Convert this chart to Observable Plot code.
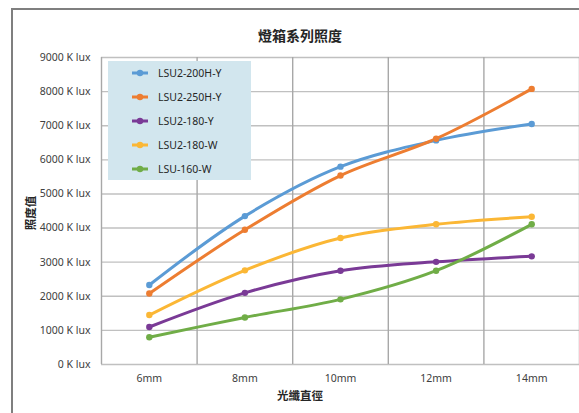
<!DOCTYPE html>
<html>
<head>
<meta charset="utf-8">
<script src="https://cdn.jsdelivr.net/npm/d3@7"></script>
<script src="https://cdn.jsdelivr.net/npm/@observablehq/plot@0.6"></script>
<style>
  html, body { margin: 0; padding: 0; background: #fff; overflow: hidden; }
  #wrap { position: relative; width: 579px; height: 413px; font-family: "Noto Sans", "Noto Sans CJK TC", sans-serif; }
  #frame { position: absolute; left: 11px; top: 8px; width: 700px; height: 600px; border: 2.5px solid #7f7f7f; box-sizing: border-box; }
  #chart { position: absolute; left: 0; top: 0; }
  .lbl { position: absolute; font-family: "Noto Sans CJK TC", sans-serif; color: #262626; white-space: nowrap; }
  #title { left: 0; width: 600px; top: 25px; text-align: center; font-size: 14px; font-weight: bold; }
  #xlabel { left: 0; width: 600px; top: 387px; text-align: center; font-size: 11.5px; font-weight: bold; }
  #ylabel { left: 30px; top: 213px; transform: translate(-50%, -50%) rotate(-90deg); font-size: 11.5px; font-weight: bold; }
  #legend { position: absolute; left: 108px; top: 61px; width: 143px; height: 119px; background: #d2e6ee; }
  .item { position: absolute; left: 24px; height: 14px; display: flex; align-items: center; font-family: "Noto Sans", sans-serif; font-size: 10.5px; color: #262626; }
  .item svg { margin-right: 10px; }
</style>
</head>
<body>
<div id="wrap">
  <div id="frame"></div>
  <div id="chart"></div>
  <div id="title" class="lbl">燈箱系列照度</div>
  <div id="xlabel" class="lbl">光纖直徑</div>
  <div id="ylabel" class="lbl">照度值</div>
  <div id="legend"></div>
</div>
<script>
const categories = ["6mm", "8mm", "10mm", "12mm", "14mm"];
const seriesNames = ["LSU2-200H-Y", "LSU2-250H-Y", "LSU2-180-Y", "LSU2-180-W", "LSU-160-W"];
const seriesColors = ["#5b9bd5", "#ed7d31", "#7a3a96", "#fbb735", "#70ad47"];
const lsu2_200H_Y = [2330, 4350, 5800, 6570, 7050];
const lsu2_250H_Y = [2080, 3950, 5540, 6620, 8080];
const lsu2_180_Y  = [1100, 2100, 2750, 3010, 3170];
const lsu2_180_W  = [1450, 2760, 3710, 4110, 4330];
const lsu_160_W   = [800, 1380, 1910, 2750, 4110];
const yTicks = [0, 1000, 2000, 3000, 4000, 5000, 6000, 7000, 8000, 9000];

const seriesValues = [lsu2_200H_Y, lsu2_250H_Y, lsu2_180_Y, lsu2_180_W, lsu_160_W];
const data = [];
seriesNames.forEach((s, si) => {
  seriesValues[si].forEach((v, ci) => data.push({series: s, pos: ci + 0.5, value: v}));
});
const boundaries = d3.range(categories.length + 1);
const centers = categories.map((c, i) => i + 0.5);

const chart = Plot.plot({
  width: 579,
  height: 413,
  marginLeft: 101,
  marginRight: 0,
  marginTop: 57,
  marginBottom: 49,
  style: {background: "transparent", fontFamily: "Noto Sans, sans-serif", fontSize: "10.5px", color: "#404040"},
  x: {type: "linear", domain: [0, categories.length]},
  y: {domain: [0, 9000]},
  color: {domain: seriesNames, range: seriesColors},
  marks: [
    Plot.ruleY(yTicks, {stroke: "#c0c0c0", strokeWidth: 1.4}),
    Plot.ruleX(boundaries, {stroke: "#a8a8a8", strokeWidth: 1.4}),
    Plot.axisY({ticks: yTicks, tickFormat: d => `${d} K lux`, tickSize: 0, tickPadding: 11, label: null, fill: "#404040"}),
    Plot.axisX({ticks: centers, tickFormat: d => categories[Math.round(d - 0.5)], tickSize: 0, tickPadding: 10, label: null, fill: "#404040"}),
    Plot.line(data, {x: "pos", y: "value", z: "series", stroke: "series", strokeWidth: 3, curve: "catmull-rom"}),
    Plot.dot(data, {x: "pos", y: "value", fill: "series", r: 3.2})
  ]
});
document.getElementById("chart").appendChild(chart);

const legend = document.getElementById("legend");
const legendTops = [5, 29, 53, 77, 101];
seriesNames.forEach((s, i) => {
  const div = document.createElement("div");
  div.className = "item";
  div.style.top = (i * 24 + 5) + "px";
  div.innerHTML = `<svg width="16" height="8"><line x1="0" x2="16" y1="4" y2="4" stroke="${seriesColors[i]}" stroke-width="3"/><circle cx="8" cy="4" r="3.2" fill="${seriesColors[i]}"/></svg><span>${s}</span>`;
  legend.appendChild(div);
});
</script>
</body>
</html>
